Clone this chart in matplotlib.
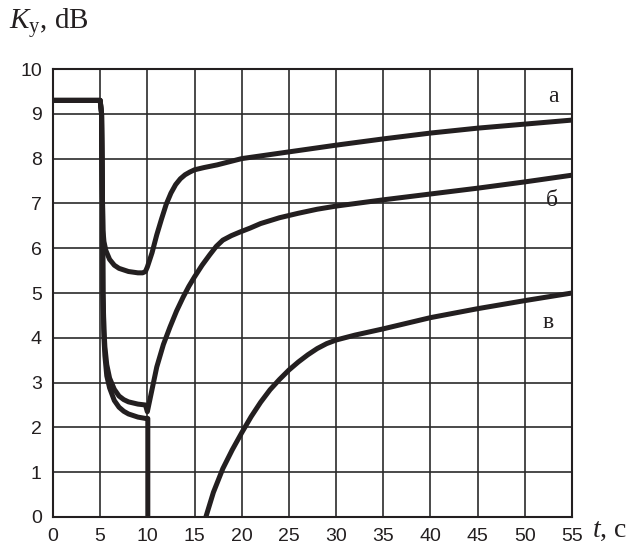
import numpy as np
import matplotlib
matplotlib.use('Agg')
import matplotlib.pyplot as plt

plt.rcParams['mathtext.fontset'] = 'custom'
plt.rcParams['mathtext.rm'] = 'Liberation Serif'
plt.rcParams['mathtext.it'] = 'Liberation Serif:italic'

# Gain vs. time, three regimes (а, б, в)
t_a = [0, 5.0, 5.15, 5.2, 5.25, 5.3, 5.4, 5.6, 6, 6.5, 7, 8, 9, 9.5, 9.8, 10, 10.5,
       11, 11.5, 12, 12.5, 13, 13.5, 14, 14.5, 15, 16, 17.4, 20, 25, 30, 35, 40,
       45, 50, 55]
k_a = [9.3, 9.3, 9.0, 8.0, 7.0, 6.4, 6.15, 5.95, 5.75, 5.62, 5.55, 5.48, 5.45,
       5.45, 5.48, 5.58, 5.9, 6.3, 6.65, 6.98, 7.23, 7.42, 7.55, 7.64, 7.7, 7.75,
       7.8, 7.86, 8.0, 8.15, 8.3, 8.44, 8.57, 8.68, 8.77, 8.86]

t_b = [0, 5.0, 5.15, 5.25, 5.3, 5.4, 5.5, 5.7, 6, 6.5, 7, 7.5, 8, 9, 9.8, 10.0,
       10.5, 11, 11.7, 12.4, 13.1, 13.8, 14.4, 15, 15.8, 16.6, 17.3, 18, 18.9,
       19.8, 20.9, 22, 24, 26, 28, 30, 35, 40, 45, 50, 55]
k_b = [9.3, 9.3, 9.0, 7.0, 5.0, 4.2, 3.8, 3.4, 3.1, 2.85, 2.7, 2.62, 2.57, 2.52,
       2.5, 2.35, 2.85, 3.35, 3.85, 4.24, 4.6, 4.91, 5.15, 5.36, 5.62, 5.85, 6.04,
       6.18, 6.28, 6.36, 6.45, 6.55, 6.68, 6.78, 6.87, 6.94, 7.08, 7.21, 7.34,
       7.48, 7.63]

t_v = [0, 5.0, 5.15, 5.25, 5.3, 5.4, 5.5, 5.7, 6, 6.5, 7, 7.5, 8, 9, 9.8, 10.05,
       10.05, np.nan, 16.2, 17, 18, 19, 20, 21, 22, 23, 24, 25, 26, 27, 28, 29,
       30, 32, 35, 40, 45, 50, 55]
k_v = [9.3, 9.3, 9.0, 7.0, 5.0, 4.0, 3.6, 3.15, 2.88, 2.6, 2.45, 2.36, 2.3, 2.23,
       2.2, 2.2, 0, np.nan, 0, 0.55, 1.08, 1.5, 1.88, 2.24, 2.56, 2.84, 3.07, 3.28,
       3.46, 3.62, 3.76, 3.87, 3.95, 4.06, 4.2, 4.45, 4.65, 4.83, 5.0]

curve_labels = ['а', 'б', 'в']
label_t = [53.0, 52.9, 52.5]
label_k = [9.38, 7.07, 4.35]

xticks = np.arange(0, 56, 5)
yticks = np.arange(0, 11, 1)

ink = '#231f20'
fig = plt.figure(figsize=(6.33, 5.49), dpi=100)
ax = fig.add_axes([0.0837, 0.0583, 0.8199, 0.816])

ax.set_xlim(0, 55)
ax.set_ylim(0, 10)
ax.set_xticks(xticks)
ax.set_yticks(yticks)
ax.grid(True, color='#2b2b2b', linewidth=1.2)
ax.set_axisbelow(True)
for s in ax.spines.values():
    s.set_linewidth(1.5)
    s.set_color(ink)
ax.tick_params(length=0, pad=8, labelsize=14, colors=ink)
for lab in ax.get_xticklabels() + ax.get_yticklabels():
    lab.set_family('Liberation Sans')

for t, k in [(t_a, k_a), (t_b, k_b), (t_v, k_v)]:
    ax.plot(t, k, color=ink, linewidth=3.6, solid_joinstyle='round',
            solid_capstyle='butt', clip_on=False, zorder=3)

for name, x, y in zip(curve_labels, label_t, label_k):
    ax.text(x, y, name, fontsize=17, family='Liberation Serif', color=ink,
            ha='center', va='center', zorder=4)

fig.text(0.015, 0.958, r'$K_\mathrm{y}$, dB', fontsize=21, family='Liberation Serif',
         color=ink, ha='left', va='center')
fig.text(0.935, 0.022, r'$t$, c', fontsize=20, family='Liberation Serif',
         color=ink, ha='left', va='baseline')

plt.savefig('out.png', dpi=100)
